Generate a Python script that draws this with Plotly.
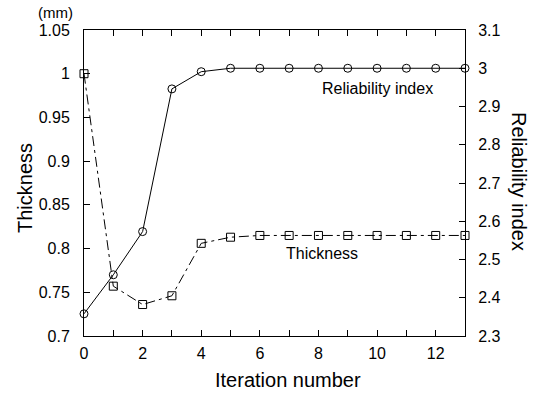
import plotly.graph_objects as go

iterations = list(range(14))
thickness = [1.0, 0.757, 0.736, 0.746, 0.806, 0.813, 0.815, 0.815, 0.815, 0.815, 0.815, 0.815, 0.815, 0.815]
reliability = [2.358, 2.46, 2.573, 2.946, 2.991, 3.0, 3.0, 3.0, 3.0, 3.0, 3.0, 3.0, 3.0, 3.0]
x_tick_vals = list(range(14))
x_tick_text = [str(v) if v % 2 == 0 else "" for v in x_tick_vals]

FONT = "Liberation Sans, Arial, sans-serif"
L, R, T, B = 84, 465, 30, 336
W, H = 541, 394

def px(xp):
    return (xp - L) / (R - L)

def py(yp):
    return (B - yp) / (B - T)

fig = go.Figure()
fig.add_trace(go.Scatter(
    x=iterations, y=reliability, yaxis="y2", mode="lines+markers",
    line=dict(color="black", width=1),
    marker=dict(symbol="circle-open", size=8, color="black", line=dict(width=1)),
    showlegend=False, cliponaxis=False,
))
fig.add_trace(go.Scatter(
    x=iterations, y=thickness, mode="lines+markers",
    line=dict(color="black", width=1, dash="10px,4px,3px,4px"),
    marker=dict(symbol="square-open", size=8, color="black", line=dict(width=1)),
    showlegend=False, cliponaxis=False,
))

axis_common = dict(
    showgrid=False, zeroline=False, showline=True, linecolor="black", linewidth=1,
    ticks="inside", ticklen=6, tickcolor="black",
    tickfont=dict(family=FONT, size=16, color="black"),
)

fig.update_layout(
    width=W, height=H,
    margin=dict(l=L, r=W - R, t=T, b=H - B),
    plot_bgcolor="white", paper_bgcolor="white",
    font=dict(family=FONT, color="black"),
    xaxis=dict(range=[0, 13], tickvals=x_tick_vals, ticktext=x_tick_text,
               mirror="ticks", ticklabelstandoff=3, **axis_common),
    yaxis=dict(range=[0.7, 1.05], dtick=0.05, tick0=0.7, ticklabelstandoff=10,
               **axis_common),
    yaxis2=dict(range=[2.3, 3.1], dtick=0.1, tick0=2.3, overlaying="y", side="right",
                ticklabelstandoff=9, **axis_common),
)

ann_font = dict(family=FONT, size=16, color="black")
title_font = dict(family=FONT, size=20, color="black")
annotations = [
    dict(text="(mm)", x=px(55), y=py(13), font=dict(family=FONT, size=15, color="black")),
    dict(text="Thickness", x=px(25), y=py(188), textangle=-90, font=title_font),
    dict(text="Reliability index", x=px(519), y=py(181), textangle=90, font=title_font),
    dict(text="Iteration number", x=px(288), y=py(380), font=title_font),
    dict(text="Reliability index", x=px(377), y=py(88), font=ann_font),
    dict(text="Thickness", x=px(322), y=py(253), font=ann_font),
]
for a in annotations:
    fig.add_annotation(xref="paper", yref="paper", showarrow=False,
                       xanchor="center", yanchor="middle", **a)

fig.write_html("out.html", config={"displayModeBar": False},
               post_script="document.body.style.margin='0';document.body.style.padding='0';")
